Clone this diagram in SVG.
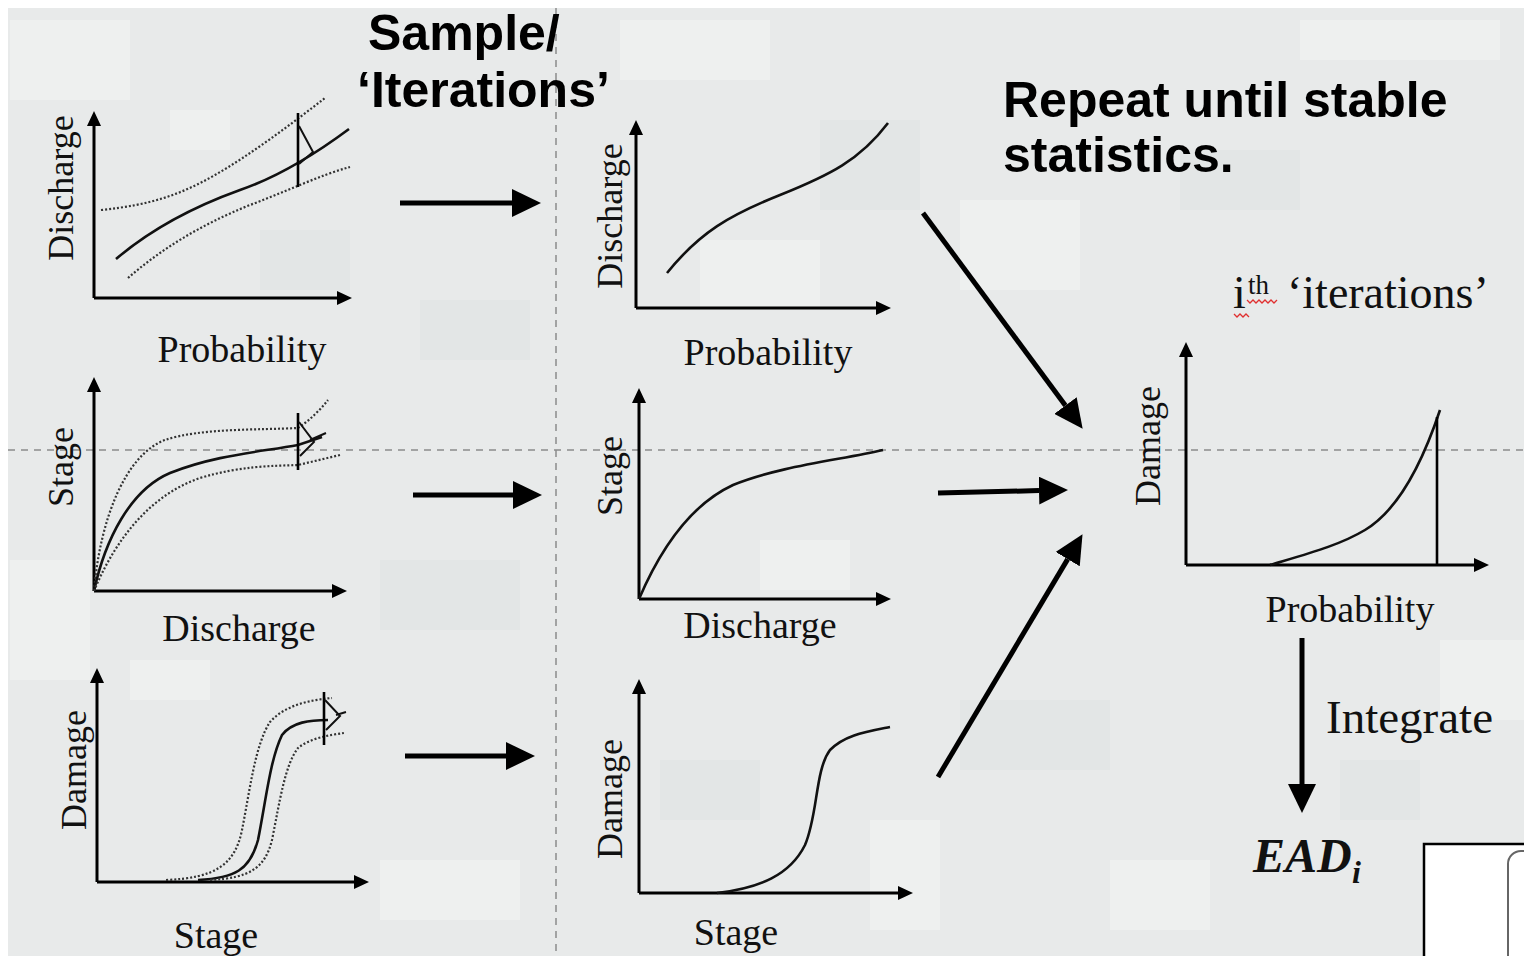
<svg xmlns="http://www.w3.org/2000/svg" width="1524" height="956" viewBox="0 0 1524 956">
<style>
.ax{fill:none;stroke:#000;stroke-width:3;marker-end:url(#axh)}
.cv{fill:none;stroke:#111;stroke-width:2.6}
.dt{fill:none;stroke:#333;stroke-width:2.2;stroke-dasharray:2 2}
.big{fill:none;stroke:#000;stroke-width:5;marker-end:url(#bh)}
.lbl{font-family:"Liberation Serif","Times New Roman",serif;font-size:38px;fill:#111;text-anchor:middle}
.vl{font-family:"Liberation Serif","Times New Roman",serif;font-size:36px;fill:#111;text-anchor:middle}
.hd{font-family:"Liberation Sans",Arial,sans-serif;font-weight:bold;font-size:50px;fill:#000}
.guide{fill:none;stroke:#8a8c8c;stroke-width:1.5;stroke-dasharray:7 6}
.camo{fill:#eef0ef}
.camo2{fill:#e3e6e6}
</style>
<defs>
<marker id="axh" markerUnits="userSpaceOnUse" markerWidth="15" markerHeight="14" refX="0" refY="7" orient="auto"><path d="M0,0 L15,7 L0,14 Z" fill="#000"/></marker>
<marker id="bh" markerUnits="userSpaceOnUse" markerWidth="29" markerHeight="28" refX="0" refY="14" orient="auto"><path d="M0,0 L29,14 L0,28 Z" fill="#000"/></marker>
</defs>
<rect width="1524" height="956" fill="#ffffff"/>
<rect x="8" y="8" width="1516" height="948" fill="#e8eaea"/>
<g id="background">
<rect class="camo" x="10" y="20" width="120" height="80"/>
<rect class="camo" x="170" y="110" width="60" height="40"/>
<rect class="camo2" x="260" y="230" width="90" height="60"/>
<rect class="camo" x="620" y="20" width="150" height="60"/>
<rect class="camo" x="700" y="240" width="120" height="70"/>
<rect class="camo2" x="820" y="120" width="100" height="90"/>
<rect class="camo" x="960" y="200" width="120" height="90"/>
<rect class="camo" x="1300" y="20" width="200" height="40"/>
<rect class="camo2" x="1180" y="150" width="120" height="60"/>
<rect class="camo" x="10" y="560" width="80" height="120"/>
<rect class="camo" x="130" y="660" width="80" height="40"/>
<rect class="camo2" x="380" y="560" width="140" height="70"/>
<rect class="camo" x="760" y="540" width="90" height="50"/>
<rect class="camo2" x="660" y="760" width="100" height="60"/>
<rect class="camo" x="870" y="820" width="70" height="110"/>
<rect class="camo2" x="960" y="700" width="150" height="70"/>
<rect class="camo" x="1110" y="860" width="100" height="70"/>
<rect class="camo2" x="1340" y="760" width="80" height="60"/>
<rect class="camo" x="1440" y="640" width="84" height="80"/>
<rect class="camo2" x="420" y="300" width="110" height="60"/>
<rect class="camo" x="380" y="860" width="140" height="60"/>
</g>
<g id="guides">
<line class="guide" x1="556" y1="8" x2="556" y2="956"/>
<line class="guide" x1="8" y1="450" x2="1524" y2="450"/>
</g>
<g id="title-sample">
<text class="hd" x="368" y="50">Sample/</text>
<text class="hd" x="357" y="107">‘Iterations’</text>
</g>
<g id="title-repeat">
<text class="hd" x="1003" y="117">Repeat until stable</text>
<text class="hd" x="1003" y="172">statistics.</text>
</g>
<g id="chart-discharge-probability-uncertain">
<path class="ax" d="M94,298 L94,126"/>
<path class="ax" d="M94,298 L337,298"/>
<path class="dt" d="M101,210 C150,205 180,195 215,175 C250,155 290,125 325,98"/>
<path class="cv" d="M116,259 C150,230 190,208 240,190 C275,178 310,158 349,129"/>
<path class="dt" d="M128,278 C160,250 200,225 250,205 C285,192 320,175 350,167"/>
<line x1="298" y1="113" x2="298" y2="187" stroke="#000" stroke-width="2.6"/>
<path d="M299,126 L313,152 L299,164" fill="none" stroke="#111" stroke-width="2"/>
<text class="vl" transform="translate(73,188) rotate(-90)">Discharge</text>
<text class="lbl" x="242" y="362">Probability</text>
</g>
<g id="chart-stage-discharge-uncertain">
<path class="ax" d="M94,591 L94,392"/>
<path class="ax" d="M94,591 L332,591"/>
<path class="dt" d="M94,591 C100,520 125,455 165,440 C200,428 260,430 298,428 C310,420 320,410 328,400"/>
<path class="cv" d="M94,591 C105,540 130,490 170,473 C215,455 260,452 298,445 L322,437"/>
<path class="dt" d="M94,591 C115,540 150,495 200,478 C240,466 270,466 298,465 L340,455"/>
<line x1="298" y1="413" x2="298" y2="470" stroke="#000" stroke-width="2.6"/>
<path d="M299,422 L314,442 L300,456 M310,440 L326,433" fill="none" stroke="#111" stroke-width="2"/>
<text class="vl" transform="translate(73,467) rotate(-90)">Stage</text>
<text class="lbl" x="239" y="641">Discharge</text>
</g>
<g id="chart-damage-stage-uncertain">
<path class="ax" d="M97,882 L97,683"/>
<path class="ax" d="M97,882 L354,882"/>
<path class="dt" d="M166,880 C215,878 235,865 242,830 C250,790 255,745 270,722 C285,705 310,700 332,698"/>
<path class="cv" d="M198,880 C235,878 250,870 258,840 C266,800 270,760 282,735 C292,722 310,720 328,720"/>
<path class="dt" d="M210,880 C250,878 265,868 272,840 C280,800 285,765 298,748 C310,738 330,735 344,733"/>
<line x1="324" y1="692" x2="324" y2="745" stroke="#000" stroke-width="2.6"/>
<path d="M325,700 L340,716 L326,730 M336,715 L346,712" fill="none" stroke="#111" stroke-width="2"/>
<text class="vl" transform="translate(86,770) rotate(-90)">Damage</text>
<text class="lbl" x="216" y="948">Stage</text>
</g>
<g id="chart-discharge-probability">
<path class="ax" d="M636,308 L636,135"/>
<path class="ax" d="M636,308 L876,308"/>
<path class="cv" d="M667,273 C700,232 730,215 780,195 C830,175 860,160 888,123"/>
<text class="vl" transform="translate(622,216) rotate(-90)">Discharge</text>
<text class="lbl" x="768" y="365">Probability</text>
</g>
<g id="chart-stage-discharge">
<path class="ax" d="M639,599 L639,403"/>
<path class="ax" d="M639,599 L876,599"/>
<path class="cv" d="M639,599 C660,550 690,505 733,485 C780,466 840,460 883,450"/>
<text class="vl" transform="translate(622,476) rotate(-90)">Stage</text>
<text class="lbl" x="760" y="638">Discharge</text>
</g>
<g id="chart-damage-stage">
<path class="ax" d="M639,893 L639,694"/>
<path class="ax" d="M639,893 L898,893"/>
<path class="cv" d="M717,893 C760,888 790,875 805,845 C818,815 815,770 830,750 C845,735 865,732 890,727"/>
<text class="vl" transform="translate(622,799) rotate(-90)">Damage</text>
<text class="lbl" x="736" y="945">Stage</text>
</g>
<g id="chart-damage-probability">
<path class="ax" d="M1186,565 L1186,357"/>
<path class="ax" d="M1186,565 L1474,565"/>
<path class="cv" d="M1270,565 C1310,553 1340,545 1365,530 C1395,512 1420,470 1440,410"/>
<line x1="1437" y1="565" x2="1437" y2="417" stroke="#000" stroke-width="2.6"/>
<text class="vl" transform="translate(1160,446) rotate(-90)">Damage</text>
<text class="lbl" x="1350" y="622">Probability</text>
</g>
<g id="label-ith">
<text x="1233" y="308" font-family="'Liberation Serif','Times New Roman',serif" font-size="46" fill="#111">i</text>
<text x="1248" y="294" font-family="'Liberation Serif','Times New Roman',serif" font-size="27" fill="#111">th</text>
<text x="1287" y="308" font-family="'Liberation Serif','Times New Roman',serif" font-size="46" fill="#111">‘iterations’</text>
<path d="M1247,300 l3,3 l3,-3 l3,3 l3,-3 l3,3 l3,-3 l3,3 l3,-3 l3,3 l3,-3 M1234,314 l3,3 l3,-3 l3,3 l3,-3 l3,3" fill="none" stroke="#e03030" stroke-width="1.3"/>
</g>
<g id="label-integrate">
<text x="1326" y="733" font-family="'Liberation Serif','Times New Roman',serif" font-size="47" fill="#111">Integrate</text>
</g>
<g id="label-ead">
<text x="1253" y="872" font-family="'Liberation Serif','Times New Roman',serif" font-size="48" font-weight="bold" font-style="italic" fill="#111">EAD</text>
<text x="1352" y="883" font-family="'Liberation Serif','Times New Roman',serif" font-size="32" font-weight="bold" font-style="italic" fill="#111">i</text>
</g>
<g id="corner-box">
<rect x="1424" y="844" width="110" height="130" fill="#ffffff" stroke="#000" stroke-width="2.5"/>
<rect x="1508" y="851" width="40" height="120" rx="13" fill="#ffffff" stroke="#666" stroke-width="2"/>
</g>
<g id="connectors">
<path class="big" d="M400,203 L512,203"/>
<path class="big" d="M413,495 L513,495"/>
<path class="big" d="M405,756 L506,756"/>
<path class="big" d="M923,213 L1065.4,405.5"/>
<path class="big" d="M938,493 L1039,490.6"/>
<path class="big" d="M938,777 L1067.7,559.1"/>
<path class="big" d="M1302,638 L1302,784"/>
</g>
</svg>
